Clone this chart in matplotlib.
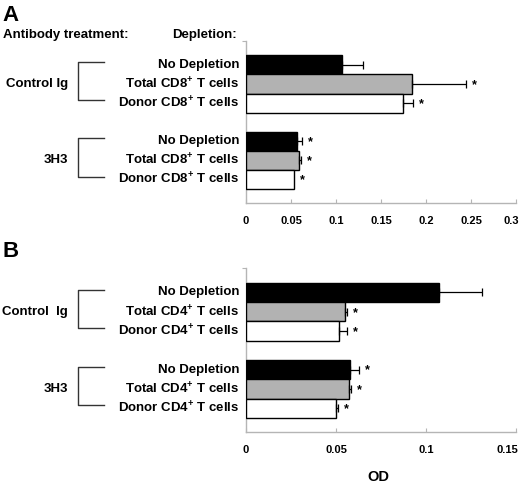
import matplotlib
matplotlib.use("Agg")
import matplotlib.pyplot as plt
from matplotlib.transforms import blended_transform_factory, offset_copy, ScaledTranslation

plt.rcParams['font.family'] = ['Liberation Sans', 'DejaVu Sans']
plt.rcParams['font.weight'] = 'bold'
plt.rcParams['mathtext.fontset'] = 'custom'
plt.rcParams['mathtext.rm'] = 'Liberation Sans:bold'
plt.rcParams['mathtext.bf'] = 'Liberation Sans:bold'
plt.rcParams['mathtext.it'] = 'Liberation Sans:bold'

# ---- data ----
treatments = ['Control Ig', '3H3']
treatments_b = ['Control  Ig', '3H3']
depletion_a = ['No Depletion', 'Total CD8$^{+}$ T cells', 'Donor CD8$^{+}$ T cells']
depletion_b = ['No Depletion', 'Total CD4$^{+}$ T cells', 'Donor CD4$^{+}$ T cells']

# values ordered: [Control Ig: none, total, donor], [3H3: none, total, donor]
a_values = [[0.1063, 0.1841, 0.1748], [0.0570, 0.0586, 0.0537]]
a_errors = [[0.0240, 0.0600, 0.0104], [0.0052, 0.0022, 0.0000]]
a_stars = [[False, True, True], [True, True, True]]

b_values = [[0.1074, 0.0552, 0.0518], [0.0579, 0.0571, 0.0498]]
b_errors = [[0.0239, 0.0011, 0.0045], [0.0047, 0.0011, 0.0012]]
b_stars = [[False, True, True], [True, True, True]]

a_ticks = [0, 0.05, 0.1, 0.15, 0.2, 0.25, 0.3]
a_ticklabels = ['0', '0.05', '0.1', '0.15', '0.2', '0.25', '0.3']
b_ticks = [0, 0.05, 0.1, 0.15]
b_ticklabels = ['0', '0.05', '0.1', '0.15']

bar_colors = ['#000000', '#b2b2b2', '#ffffff']
group_starts = [1.25, 5.25]

W, H = 520, 484
fig = plt.figure(figsize=(W / 100, H / 100), dpi=100)


def px_axes(left, top, right, bottom):
    return fig.add_axes([left / W, 1 - bottom / H, (right - left) / W, (bottom - top) / H])


def draw_panel(ax, values, errors, stars, labels, groups, ticks, ticklabels, xmax, last_shift):
    ax.set_xlim(0, xmax)
    ax.set_ylim(8.5, 0)
    for g in range(2):
        for i in range(3):
            y = group_starts[g] + i
            v = values[g][i]
            e = errors[g][i]
            ax.barh(y, v, height=1.0, color=bar_colors[i], edgecolor='black',
                    linewidth=1.0, zorder=3)
            if e > 0:
                ax.errorbar(v, y, xerr=[[0], [e]], fmt='none', ecolor='black',
                            elinewidth=0.9, capsize=3, capthick=0.9, zorder=4)
            if stars[g][i]:
                tr = offset_copy(ax.transData, fig=fig, x=6, y=-1, units='dots')
                ax.text(v + e, y, '*', transform=tr, ha='left', va='center',
                        fontsize=9, fontweight='bold', zorder=5)
            trl = offset_copy(blended_transform_factory(ax.transAxes, ax.transData),
                              fig=fig, x=-7, y=0, units='dots')
            ax.text(0, y, labels[i], transform=trl, ha='right', va='center',
                    fontsize=9.5, fontweight='bold', clip_on=False)
        btr = blended_transform_factory(fig.transFigure, ax.transData)
        y0 = group_starts[g] - 0.15
        y1 = group_starts[g] + 2 - 0.15
        ax.plot([104 / W, 78 / W, 78 / W, 104 / W], [y0, y0, y1, y1], transform=btr,
                color='#333333', linewidth=1.0, clip_on=False)
        ax.text(68 / W, group_starts[g] + 1, groups[g], transform=btr, ha='right',
                va='center', fontsize=9.5, fontweight='bold')
    for s in ['top', 'right']:
        ax.spines[s].set_visible(False)
    for s in ['left', 'bottom']:
        ax.spines[s].set_color('#b5b5b5')
        ax.spines[s].set_linewidth(1.0)
    ax.set_xticks(ticks)
    ax.set_xticklabels(ticklabels)
    ax.tick_params(axis='x', direction='in', length=3, color='#b5b5b5', pad=9,
                   labelsize=8)
    ax.set_yticks([0])
    ax.set_yticklabels([''])
    ax.tick_params(axis='y', direction='out', length=3, color='#b5b5b5')
    labs = ax.get_xticklabels()
    for t in labs:
        t.set_fontweight('bold')
    last = labs[-1]
    last.set_transform(last.get_transform() + ScaledTranslation(-last_shift / 100, 0, fig.dpi_scale_trans))


axA = px_axes(246, 41, 516, 203.3)
draw_panel(axA, a_values, a_errors, a_stars, depletion_a, treatments,
           a_ticks, a_ticklabels, 0.3, 5)

axB = px_axes(246, 268.3, 516, 432.3)
draw_panel(axB, b_values, b_errors, b_stars, depletion_b, treatments_b,
           b_ticks, b_ticklabels, 0.15, 9)

fig.text(2 / W, 1 - 5 / H, 'A', fontsize=16, fontweight='bold', ha='left', va='top')
fig.text(2 / W, 1 - 241 / H, 'B', fontsize=16, fontweight='bold', ha='left', va='top')
fig.text(3 / W, 1 - 35 / H, 'Antibody treatment:', fontsize=9.5, fontweight='bold',
         ha='left', va='center')
fig.text(237 / W, 1 - 35 / H, 'Depletion:', fontsize=9.5, fontweight='bold',
         ha='right', va='center')
fig.text(378 / W, 1 - 477 / H, 'OD', fontsize=10.5, fontweight='bold',
         ha='center', va='center')

fig.savefig('out.png', dpi=100, facecolor='white')
